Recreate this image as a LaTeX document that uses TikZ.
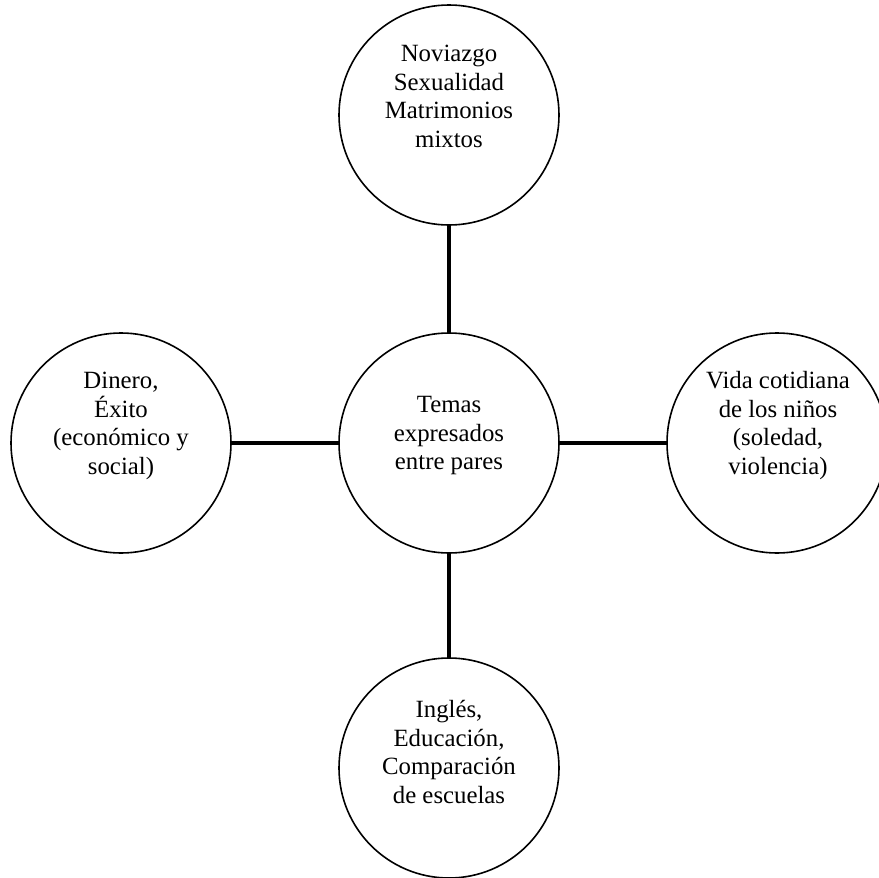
\documentclass[tikz,border=0pt]{standalone}
\usepackage{fontspec}
\setmainfont{Liberation Serif}
\begin{document}
\begin{tikzpicture}[x=0.75pt,y=-0.75pt,
  topic/.style={circle,draw=black,line width=1.2pt,minimum size=220*0.75pt,inner sep=0pt},
  lbl/.style={anchor=north,align=center,inner sep=0pt,font=\fontsize{18.6pt}{21.4pt}\selectfont},
  conn/.style={line width=3pt,draw=black}]
\clip (0,0) rectangle (879,878);
\fill[white] (0,0) rectangle (879,878);
\node[topic] (top) at (449,115) {};
\node[topic] (ctr) at (449,443) {};
\node[topic] (left) at (121,443) {};
\node[topic] (right) at (777,443) {};
\node[topic] (bot) at (449,768) {};
\node[lbl] (ttop) at (449,45) {Noviazgo\\Sexualidad\\Matrimonios\\mixtos};
\node[lbl] (tctr) at (449,396) {Temas\\expresados\\entre pares};
\node[lbl] (tleft) at (121,372) {Dinero,\\Éxito\\(económico y\\social)};
\node[lbl] (tright) at (778,371) {Vida cotidiana\\de los niños\\(soledad,\\violencia)};
\node[lbl] (tbot) at (449,700) {Inglés,\\Educación,\\Comparación\\de escuelas};
\draw[conn] (top) -- (ctr);
\draw[conn] (ctr) -- (bot);
\draw[conn] (left) -- (ctr);
\draw[conn] (ctr) -- (right);
\end{tikzpicture}
\end{document}
